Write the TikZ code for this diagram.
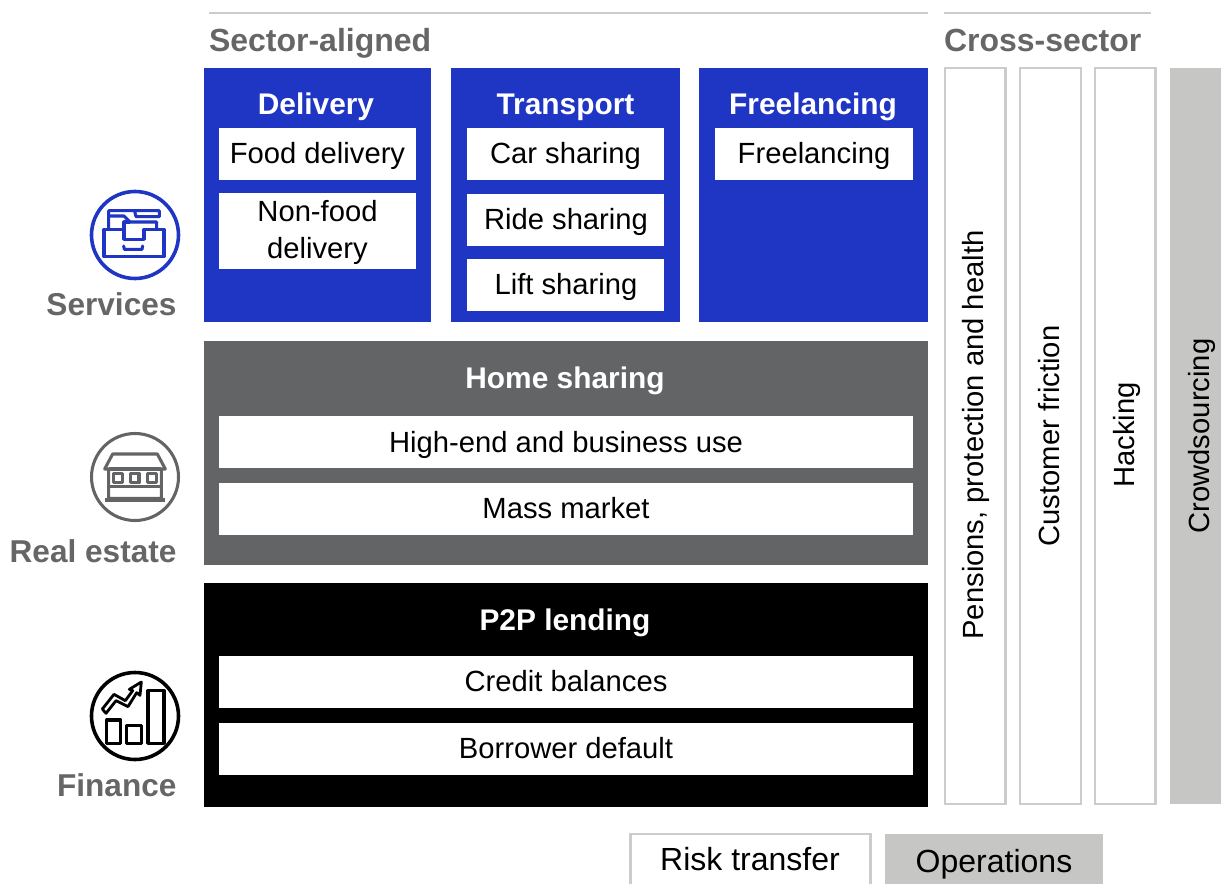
\documentclass[tikz,border=0pt]{standalone}
\usepackage{fontspec}
\setmainfont{Liberation Sans}
\definecolor{bluebox}{HTML}{1F35C4}
\definecolor{greybox}{HTML}{636466}
\definecolor{lightbox}{HTML}{C6C6C5}
\definecolor{outl}{HTML}{CCCCCC}
\definecolor{lab}{HTML}{666666}
\newcommand{\fs}[1]{\fontsize{#1}{#1}\selectfont}
\tikzset{
  every node/.style={inner sep=0pt,outer sep=0pt,anchor=center},
  txt/.style={text=black,font=\fs{21.9pt}},
  legendtxt/.style={text=black,font=\fs{24pt}},
  head/.style={text=white,font=\fs{22.4pt}\bfseries},
  sect/.style={text=lab,font=\fs{24pt}\bfseries},
  side/.style={text=lab,font=\fs{23.7pt}\bfseries,anchor=east},
  col/.style={draw=outl,line width=1.7pt,fill=white},
  rule/.style={draw=outl,line width=2pt},
  ico/.style={line width=2.3pt,line join=round,fill=none},
  icot/.style={line width=2.1pt,line join=round,fill=none},
}
\begin{document}
\begin{tikzpicture}[x=0.75pt,y=-0.75pt]
\useasboundingbox (0,0) rectangle (1221,884);
% rules
\coordinate (r1a) at (209,13); \coordinate (r1b) at (928,13);
\coordinate (r2a) at (944,13); \coordinate (r2b) at (1151,13);
\draw[rule] (r1a) -- (r1b);
\draw[rule] (r2a) -- (r2b);
\node[sect,anchor=west] (sa) at (209,43) {Sector-aligned};
\node[sect,anchor=west] (cs) at (944,40.5) {Cross-sector};
% coloured panels
\fill[bluebox] (204,68) rectangle (431,322);
\fill[bluebox] (451,68) rectangle (680,322);
\fill[bluebox] (699,68) rectangle (928,322);
\fill[greybox] (204,341) rectangle (928,565);
\fill[black] (204,583) rectangle (928,807);
% white boxes
\foreach \a/\b/\c/\d in {219/128/416/180,219/193/416/269,467/128/664/180,467/194/664/246,467/259/664/311,715/128/913/180,219/416/913/468,219/483/913/535,219/656/913/708,219/723/913/775}
  \fill[white] (\a,\b) rectangle (\c,\d);
\node[head] (h1) at (316,107) {Delivery};
\node[head] (h2) at (565.5,107) {Transport};
\node[head] (h3) at (813,107) {Freelancing};
\node[head] (h4) at (565,381) {Home sharing};
\node[head] (h5) at (565,623) {P2P lending};
\node[txt] (t1) at (317.5,156) {Food delivery};
\node[txt,align=center] (t2) at (317.5,232.5) {Non-food\\[5.8pt]delivery};
\node[txt] (t3) at (565.5,156) {Car sharing};
\node[txt] (t4) at (566,222) {Ride sharing};
\node[txt] (t5) at (566,287) {Lift sharing};
\node[txt] (t6) at (814,156) {Freelancing};
\node[txt] (t7) at (566,445) {High-end and business use};
\node[txt] (t8) at (566,508) {Mass market};
\node[txt] (t9) at (566,681) {Credit balances};
\node[txt] (t10) at (566,748) {Borrower default};
% cross-sector columns
\draw[col] (945,68) rectangle (1005.5,804);
\draw[col] (1020,68) rectangle (1081,804);
\draw[col] (1095,68) rectangle (1155.5,804);
\fill[lightbox] (1170,68) rectangle (1221,804);
\node[txt,rotate=90] (c1) at (975.5,435) {Pensions, protection and health};
\node[txt,rotate=90] (c2) at (1049.5,436) {Customer friction};
\node[txt,rotate=90] (c3) at (1126.5,435) {Hacking};
\node[txt,rotate=90] (c4) at (1201.5,436) {Crowdsourcing};
% legend
\draw[col] (630.5,884) -- (630.5,834) -- (870.5,834) -- (870.5,884);
\fill[lightbox] (885,834) rectangle (1103,884);
\node[legendtxt] (l1) at (750,859) {Risk transfer};
\node[legendtxt] (l2) at (994,864) {Operations};
% side labels
\node[side] (s1) at (176.5,304) {Services};
\node[side] (s2) at (176.5,551) {Real estate};
\node[side] (s3) at (176.5,785) {Finance};
% services icon
\draw[bluebox,line width=2.7pt] (135,235) circle [radius=43.5];
\begin{scope}[shift={(0,170)},x=0.25pt,y=-0.25pt,bluebox]
\draw[ico] (312,178) -- (372,178) -- (372,208) -- (432,208) -- (432,178) -- (492,178) -- (492,260) -- (312,260) -- cycle;
\draw[ico,line cap=round] (371,228) -- (373,238) -- (426,238) -- (428,228);
\draw[ico] (326,178) -- (326,122) -- (478,122) -- (478,140) -- (408,140) -- (404,124);
\draw[ico] (330,138) -- (372,138) -- (390,156) -- (470,156) -- (470,178);
\draw[ico] (372,178) -- (372,156) -- (390,156);
\end{scope}
% real estate icon
\draw[greybox,line width=2.3pt] (135,477) circle [radius=43.5];
\begin{scope}[shift={(0,420)},x=0.25pt,y=-0.25pt,greybox]
\draw[ico] (314,147) -- (338,102) -- (472,102) -- (496,147) -- (484,147) -- (484,235) -- (326,235) -- (326,147) -- cycle;
\draw[ico] (326,147) -- (484,147);
\draw[ico] (340,160) rectangle (368,188);
\draw[ico] (391,160) rectangle (417,188);
\draw[ico] (443,160) rectangle (470,188);
\draw[ico] (326,200) -- (484,200);
\fill (316,233) rectangle (494,247);
\end{scope}
% finance icon
\draw[black,line width=2.7pt] (135,716) circle [radius=43.5];
\begin{scope}[shift={(0,660)},x=0.25pt,y=-0.25pt,black]
\draw[ico] (320,180) rectangle (362,250);
\draw[ico] (380,197) rectangle (424,250);
\draw[ico] (444,92) rectangle (492,250);
\draw[icot] (307,147) -- (342,103) -- (376,122) -- (398,92) -- (388,88) -- (424,66) -- (420,106) -- (410,98) -- (384,140) -- (348,122) -- (318,160) -- cycle;
\end{scope}
\end{tikzpicture}
\end{document}
